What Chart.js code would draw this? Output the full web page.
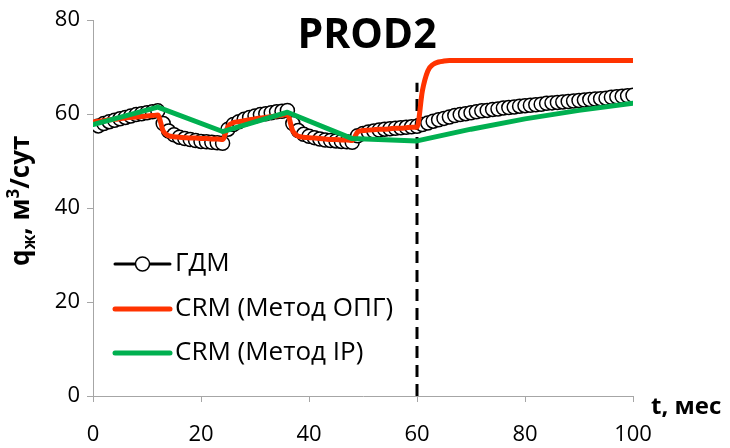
<!DOCTYPE html>
<html>
<head>
<meta charset="utf-8">
<script src="https://cdn.jsdelivr.net/npm/chart.js@4/dist/chart.umd.min.js"></script>
<style>
  html, body { margin: 0; padding: 0; background: #fff; }
  canvas { display: block; }
</style>
</head>
<body>
<canvas id="c" width="730" height="448"></canvas>
<script>
// Liquid rate of well PROD2, m3/day, by month
const chartTitle = 'PROD2';
const seriesLabels = ['ГДМ', 'CRM (Метод ОПГ)', 'CRM (Метод IP)'];

// Reservoir simulation (ГДМ), months 1..100
const gdmRate = [
  57.5, 58.0, 58.4, 58.7, 59.0, 59.3, 59.6, 59.9, 60.1, 60.3, 60.5, 60.7,
  58.0, 56.4, 55.6, 55.1, 54.8, 54.6, 54.4, 54.2, 54.1, 54.0, 53.9, 53.8,
  56.8, 57.8, 58.4, 58.9, 59.3, 59.6, 59.9, 60.1, 60.3, 60.5, 60.6, 60.8,
  58.0, 56.5, 55.7, 55.3, 55.0, 54.7, 54.5, 54.4, 54.3, 54.2, 54.1, 54.0,
  55.4, 55.9, 56.2, 56.4, 56.6, 56.8, 56.9, 57.0, 57.1, 57.2, 57.3, 57.4,
  57.8, 58.1, 58.5, 58.8, 59.1, 59.4, 59.7, 59.9, 60.1, 60.3,
  60.5, 60.7, 60.8, 61.0, 61.1, 61.3, 61.4, 61.5, 61.7, 61.8,
  61.9, 62.0, 62.1, 62.3, 62.4, 62.5, 62.6, 62.7, 62.8, 62.9,
  63.0, 63.1, 63.2, 63.3, 63.4, 63.6, 63.7, 63.8, 63.9, 64.0
];
const gdmStartMonth = 1;

// CRM fitted with the ОПГ method, months 0..100
const crmOpgRate = [
  58.3,
  58.5, 58.6, 58.8, 58.9, 59.0, 59.2, 59.3, 59.4, 59.5, 59.6, 59.7, 59.8,
  56.4, 55.4, 55.2, 55.1, 55.0, 54.9, 54.9, 54.8, 54.8, 54.7, 54.7, 54.6,
  57.4, 58.2, 58.4, 58.6, 58.8, 59.0, 59.2, 59.3, 59.5, 59.6, 59.8, 59.9,
  56.4, 55.3, 55.1, 55.0, 54.9, 54.8, 54.7, 54.6, 54.6, 54.5, 54.5, 54.4,
  56.2, 56.5, 56.6, 56.7, 56.8, 56.8, 56.9, 57.0, 57.0, 57.1, 57.2, 57.2,
  65.0, 69.2, 70.6, 71.1, 71.3, 71.4, 71.4, 71.4, 71.4, 71.4,
  71.4, 71.4, 71.4, 71.4, 71.4, 71.4, 71.4, 71.4, 71.4, 71.4,
  71.4, 71.4, 71.4, 71.4, 71.4, 71.4, 71.4, 71.4, 71.4, 71.4,
  71.4, 71.4, 71.4, 71.4, 71.4, 71.4, 71.4, 71.4, 71.4, 71.4
];
const crmOpgStartMonth = 0;

// CRM fitted with the IP method
const crmIpMonths = [0, 12, 24, 36, 48, 60, 70, 80, 90, 100];
const crmIpRate   = [57.8, 61.5, 56.3, 60.4, 54.8, 54.3, 56.8, 59.0, 60.8, 62.3];

// End of history / start of forecast
const forecastStart = 60;
const forecastMarkTop = 66.7;

// Axis ticks
const xTicks = [0, 20, 40, 60, 80, 100];
const yTicks = [0, 20, 40, 60, 80];

const toPoints = (start, values) => values.map((v, i) => ({ x: start + i, y: v }));
const pairPoints = (xs, ys) => xs.map((x, i) => ({ x, y: ys[i] }));

const FONT = '"Open Sans", "DejaVu Sans", sans-serif';
const RED = '#FF3300';
const GREEN = '#00B050';
const AXIS = '#a6a6a6';

// Title, axis titles and in-plot legend
const decorations = {
  id: 'decorations',
  afterDraw(chart) {
    const ctx = chart.ctx;
    ctx.save();
    ctx.fillStyle = '#000';

    // chart title
    ctx.font = 'bold 41px ' + FONT;
    ctx.textAlign = 'center';
    ctx.textBaseline = 'alphabetic';
    ctx.fillText(chartTitle, 367, 48);

    // x axis title
    ctx.font = 'bold 24px ' + FONT;
    ctx.textAlign = 'left';
    ctx.fillText('t, мес', 651, 414);

    // y axis title: q with subscript ж, м with superscript 3
    ctx.save();
    ctx.translate(29, 266);
    ctx.rotate(-Math.PI / 2);
    ctx.textAlign = 'left';
    let x = 0;
    const part = (text, size, dy) => {
      ctx.font = 'bold ' + size + 'px ' + FONT;
      ctx.fillText(text, x, dy);
      x += ctx.measureText(text).width;
    };
    part('q', 26, 0);
    part('ж', 17, 6);
    part(', м', 26, 0);
    part('3', 17, -10);
    part('/сут', 26, 0);
    ctx.restore();

    // legend
    const rows = [264, 309, 353];
    const x1 = 115, x2 = 170;
    const legendSets = [0, 1, 2];
    ctx.font = '26px ' + FONT;
    ctx.textBaseline = 'middle';
    ctx.textAlign = 'left';
    legendSets.forEach((di, r) => {
      const ds = chart.data.datasets[di];
      const y = rows[r];
      ctx.beginPath();
      ctx.moveTo(x1, y);
      ctx.lineTo(x2, y);
      ctx.strokeStyle = ds.borderColor;
      ctx.lineWidth = di === 0 ? 3 : 5;
      ctx.lineCap = 'round';
      ctx.stroke();
      if (di === 0) {
        ctx.beginPath();
        ctx.arc((x1 + x2) / 2, y, ds.pointRadius, 0, Math.PI * 2);
        ctx.fillStyle = ds.pointBackgroundColor;
        ctx.fill();
        ctx.lineWidth = ds.pointBorderWidth;
        ctx.strokeStyle = ds.pointBorderColor;
        ctx.stroke();
      }
      ctx.fillStyle = '#000';
      ctx.fillText(ds.label, x2 + 5, y);
    });
    ctx.restore();
  }
};

new Chart(document.getElementById('c'), {
  type: 'line',
  data: {
    datasets: [
      {
        label: seriesLabels[0],
        data: toPoints(gdmStartMonth, gdmRate),
        borderColor: '#000',
        borderWidth: 2.5,
        pointRadius: 7,
        pointBackgroundColor: '#fff',
        pointBorderColor: '#000',
        pointBorderWidth: 1.5,
        order: 4
      },
      {
        label: seriesLabels[1],
        data: toPoints(crmOpgStartMonth, crmOpgRate),
        borderColor: RED,
        borderWidth: 5,
        pointRadius: 0,
        cubicInterpolationMode: 'monotone',
        borderCapStyle: 'round',
        borderJoinStyle: 'round',
        order: 2
      },
      {
        label: seriesLabels[2],
        data: pairPoints(crmIpMonths, crmIpRate),
        borderColor: GREEN,
        borderWidth: 5,
        pointRadius: 0,
        borderCapStyle: 'round',
        borderJoinStyle: 'round',
        order: 1
      },
      {
        label: 'forecast',
        data: [{ x: forecastStart, y: 0 }, { x: forecastStart, y: forecastMarkTop }],
        borderColor: '#000',
        borderWidth: 3,
        borderDash: [12, 7],
        pointRadius: 0,
        order: 3
      }
    ]
  },
  options: {
    responsive: false,
    animation: false,
    layout: { padding: { top: 18, right: 97, left: 0, bottom: 0 } },
    plugins: {
      legend: { display: false },
      tooltip: { enabled: false },
      title: { display: false }
    },
    scales: {
      x: {
        type: 'linear',
        min: 0,
        max: 100,
        afterBuildTicks: s => { s.ticks = xTicks.map(v => ({ value: v })); },
        afterFit: s => { s.height = 52; },
        ticks: { font: { family: FONT, size: 22 }, color: '#000', padding: 20, maxRotation: 0 },
        grid: { drawOnChartArea: false, drawTicks: true, tickLength: 6, color: AXIS },
        border: { color: AXIS, width: 1 }
      },
      y: {
        type: 'linear',
        min: 0,
        max: 80,
        afterBuildTicks: s => { s.ticks = yTicks.map(v => ({ value: v })); },
        afterFit: s => { s.width = 93; },
        ticks: { font: { family: FONT, size: 22 }, color: '#000', padding: 7 },
        grid: { drawOnChartArea: false, drawTicks: true, tickLength: 6, color: AXIS },
        border: { color: AXIS, width: 1 }
      }
    }
  },
  plugins: [decorations]
});
</script>
</body>
</html>
